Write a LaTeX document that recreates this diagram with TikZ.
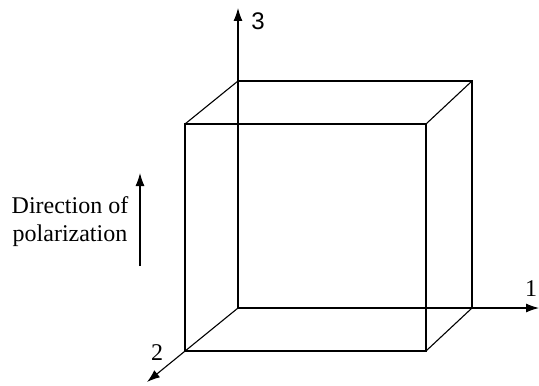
\documentclass[tikz,border=0pt]{standalone}
\usepackage{fontspec}
\setmainfont{Liberation Serif}
\newfontfamily\axisfont{Liberation Sans}
\usepackage{tikz}
\usetikzlibrary{positioning,arrows.meta}

\begin{document}
\begin{tikzpicture}[
  x=0.5pt, y=-0.5pt,
  edge/.style={line width=0.55pt},
  axis/.style={-{Latex[length=6.5pt,width=4.5pt]}, line width=0.55pt},
  lbl/.style={font=\fontsize{12}{14}\selectfont, inner sep=0pt}
]
\useasboundingbox (0,0) rectangle (539,385);
% back face
\coordinate (btl) at (238,81);
\coordinate (btr) at (472,81);
\coordinate (bbr) at (472,308);
\coordinate (bbl) at (238,308);
% front face
\coordinate (ftl) at (185,124);
\coordinate (ftr) at (426,124);
\coordinate (fbr) at (426,351);
\coordinate (fbl) at (185,351);
% axis ends
\coordinate (end3) at (238,8);
\coordinate (end1) at (539,308);
\coordinate (end2) at (147,382);
\coordinate (poltail) at (140,266);
\coordinate (polhead) at (140,173);

\draw[edge] (btl) -- (btr) -- (bbr);
\draw[edge] (ftl) rectangle (fbr);
\draw[edge] (btl) -- (ftl);
\draw[edge] (btr) -- (ftr);
\draw[edge] (bbr) -- (fbr);

\draw[axis] (bbl) -- (end3);
\draw[axis] (bbl) -- (end1);
\draw[axis] (bbl) -- (end2);
\draw[axis] (poltail) -- (polhead);

\node[lbl, font=\axisfont\fontsize{12}{14}\selectfont] (lab3) at (258,21) {3};
\node[lbl] (lab1) at (531,289) {1};
\node[lbl] (lab2) at (157,353) {2};
\node[lbl, align=center] (poltext) at (70,222) {Direction of\\polarization};
\end{tikzpicture}
\end{document}
